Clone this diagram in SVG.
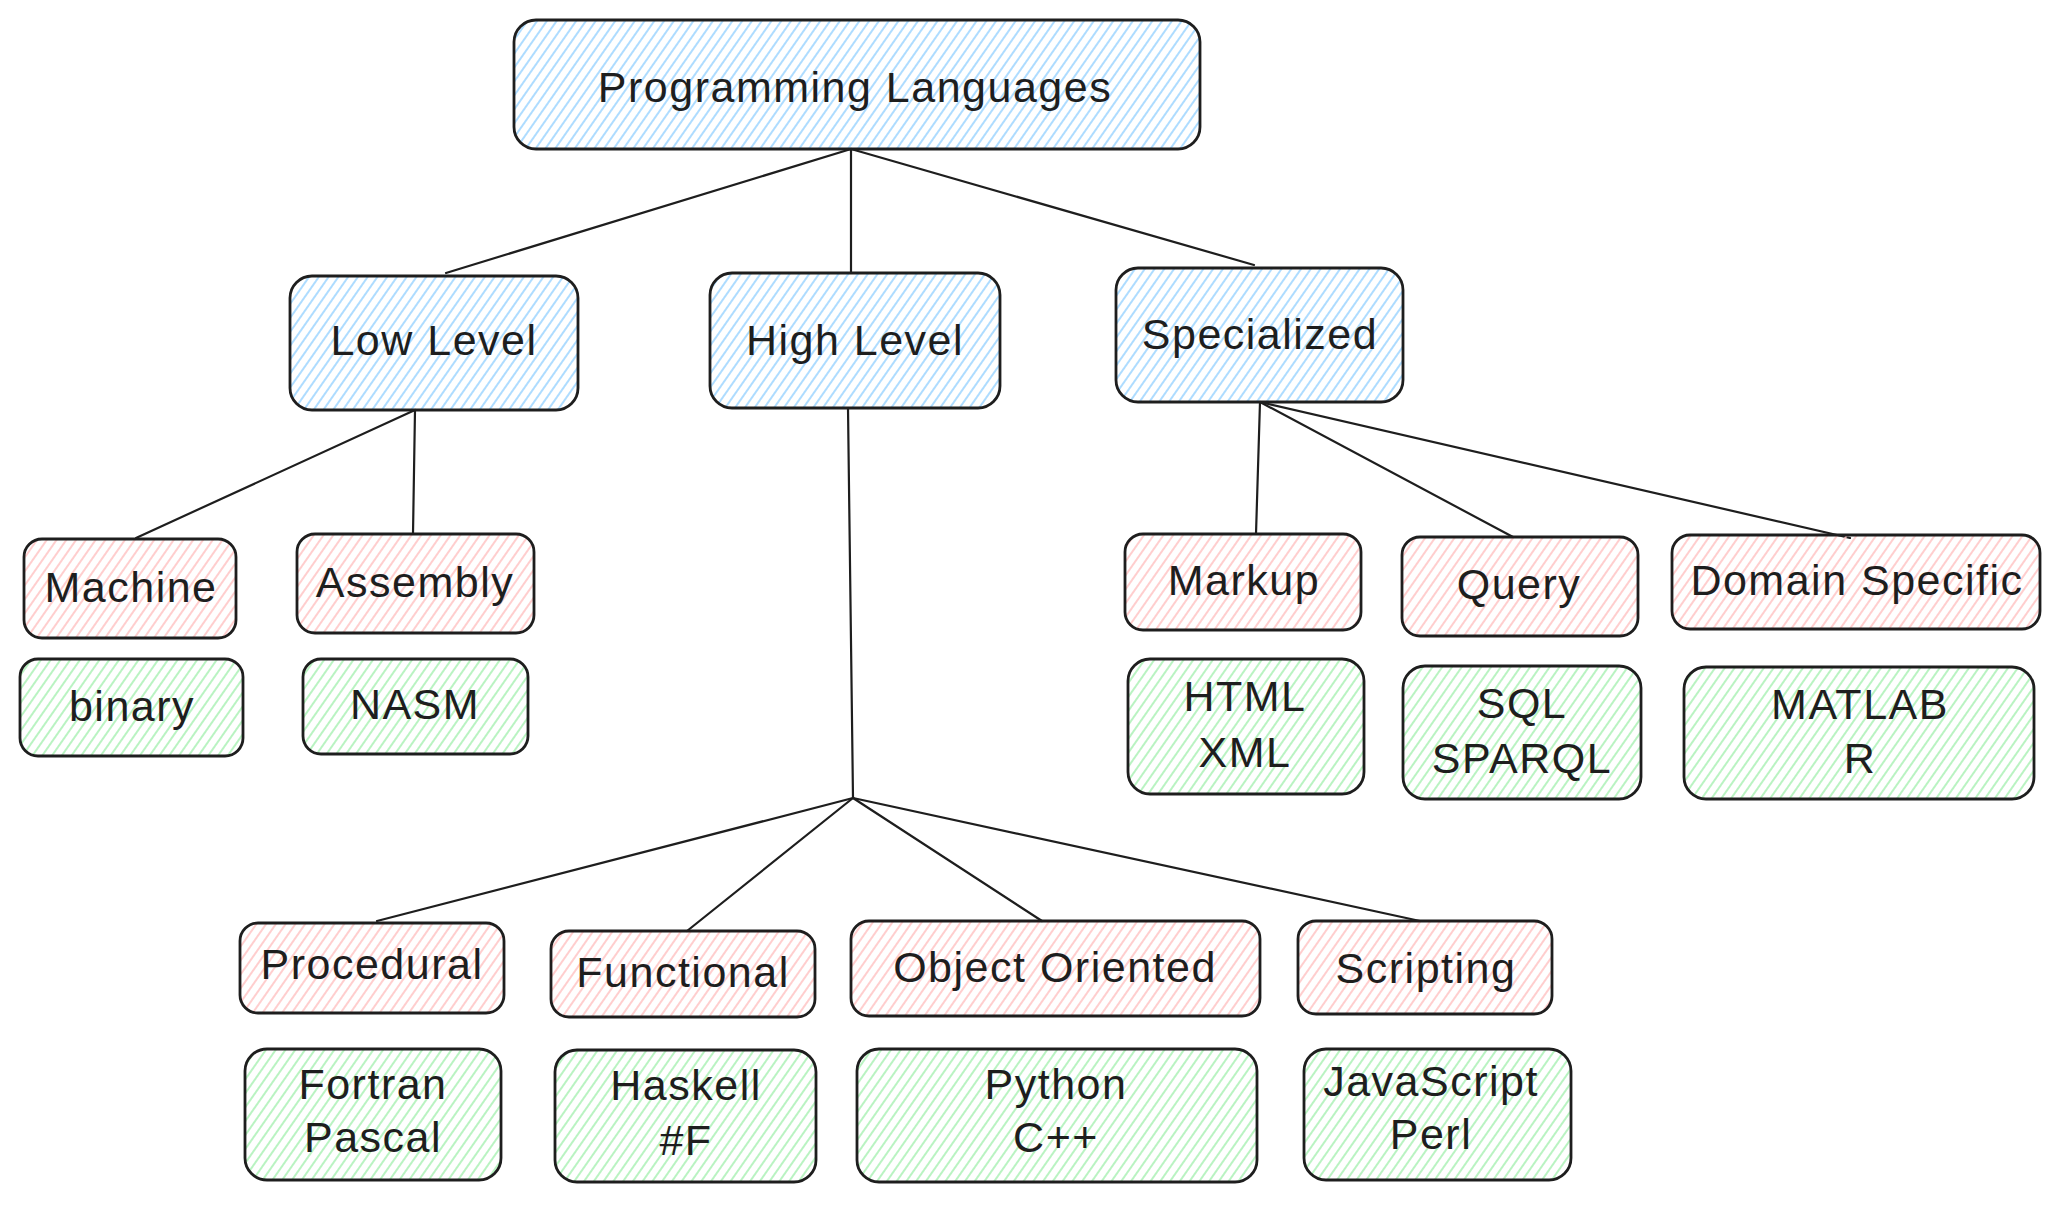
<svg xmlns="http://www.w3.org/2000/svg" width="2068" height="1207" viewBox="0 0 2068 1207">
<defs>
<pattern id="hb" patternUnits="userSpaceOnUse" width="8" height="8" patternTransform="rotate(35)"><line x1="4" y1="0" x2="4" y2="8" stroke="#a5d8ff" stroke-width="1.8"/></pattern>
<pattern id="hr" patternUnits="userSpaceOnUse" width="8" height="8" patternTransform="rotate(35)"><line x1="4" y1="0" x2="4" y2="8" stroke="#ffc9c9" stroke-width="1.8"/></pattern>
<pattern id="hg" patternUnits="userSpaceOnUse" width="8" height="8" patternTransform="rotate(35)"><line x1="4" y1="0" x2="4" y2="8" stroke="#b2f2bb" stroke-width="1.8"/></pattern>
</defs>
<style>
.n{stroke:#1e1e1e;stroke-width:2.8;stroke-linejoin:round}
.b{fill:url(#hb)}.r{fill:url(#hr)}.g{fill:url(#hg)}
text{font-family:"Liberation Sans",Arial,sans-serif;font-size:43px;fill:#1e1e1e;text-anchor:middle;dominant-baseline:central;letter-spacing:1.5px}
.c line{stroke:#1e1e1e;stroke-width:2.2;stroke-linecap:round}
</style>
<rect width="2068" height="1207" fill="#ffffff"/>
<g class="c" id="connectors">
<line x1="851" y1="149" x2="446" y2="273"/>
<line x1="851" y1="149" x2="851" y2="273"/>
<line x1="851" y1="149" x2="1254" y2="265"/>
<line x1="415" y1="410" x2="136" y2="538"/>
<line x1="415" y1="410" x2="413" y2="534"/>
<line x1="848" y1="408" x2="853" y2="798"/>
<line x1="853" y1="798" x2="377" y2="921"/>
<line x1="853" y1="798" x2="687" y2="931"/>
<line x1="853" y1="798" x2="1042" y2="921"/>
<line x1="853" y1="798" x2="1420" y2="921"/>
<line x1="1260" y1="402" x2="1256" y2="534"/>
<line x1="1260" y1="402" x2="1513" y2="537"/>
<line x1="1260" y1="402" x2="1850" y2="538"/>
</g>
<g id="programming-languages"><rect class="n b" x="514" y="20" width="686" height="129" rx="22"/><text x="855" y="87">Programming Languages</text></g>
<g id="low-level"><rect class="n b" x="290" y="276" width="288" height="134" rx="22"/><text x="434" y="340">Low Level</text></g>
<g id="high-level"><rect class="n b" x="710" y="273" width="290" height="135" rx="22"/><text x="855" y="340">High Level</text></g>
<g id="specialized"><rect class="n b" x="1116" y="268" width="287" height="134" rx="22"/><text x="1260" y="334">Specialized</text></g>
<g id="machine"><rect class="n r" x="24" y="539" width="212" height="99" rx="18"/><text x="131" y="587">Machine</text></g>
<g id="assembly"><rect class="n r" x="297" y="534" width="237" height="99" rx="18"/><text x="415" y="582">Assembly</text></g>
<g id="binary"><rect class="n g" x="20" y="659" width="223" height="97" rx="18"/><text x="132" y="706">binary</text></g>
<g id="nasm"><rect class="n g" x="303" y="659" width="225" height="95" rx="18"/><text x="415" y="704">NASM</text></g>
<g id="markup"><rect class="n r" x="1125" y="534" width="236" height="96" rx="18"/><text x="1244" y="580">Markup</text></g>
<g id="query"><rect class="n r" x="1402" y="537" width="236" height="99" rx="18"/><text x="1519" y="584">Query</text></g>
<g id="domain-specific"><rect class="n r" x="1672" y="535" width="368" height="94" rx="18"/><text x="1857" y="580">Domain Specific</text></g>
<g id="html-xml"><rect class="n g" x="1128" y="659" width="236" height="135" rx="22"/><text x="1245" y="696">HTML</text><text x="1245" y="752">XML</text></g>
<g id="sql-sparql"><rect class="n g" x="1403" y="666" width="238" height="133" rx="22"/><text x="1522" y="703">SQL</text><text x="1522" y="758">SPARQL</text></g>
<g id="matlab-r"><rect class="n g" x="1684" y="667" width="350" height="132" rx="22"/><text x="1860" y="704">MATLAB</text><text x="1860" y="758">R</text></g>
<g id="procedural"><rect class="n r" x="240" y="923" width="264" height="90" rx="18"/><text x="372" y="964">Procedural</text></g>
<g id="functional"><rect class="n r" x="551" y="931" width="264" height="86" rx="18"/><text x="683" y="972">Functional</text></g>
<g id="object-oriented"><rect class="n r" x="851" y="921" width="409" height="95" rx="18"/><text x="1055" y="967">Object Oriented</text></g>
<g id="scripting"><rect class="n r" x="1298" y="921" width="254" height="93" rx="18"/><text x="1426" y="968">Scripting</text></g>
<g id="fortran-pascal"><rect class="n g" x="245" y="1049" width="256" height="131" rx="22"/><text x="373" y="1084">Fortran</text><text x="373" y="1137">Pascal</text></g>
<g id="haskell-f"><rect class="n g" x="555" y="1050" width="261" height="132" rx="22"/><text x="686" y="1085">Haskell</text><text x="686" y="1140">#F</text></g>
<g id="python-cpp"><rect class="n g" x="857" y="1049" width="400" height="133" rx="22"/><text x="1056" y="1084">Python</text><text x="1056" y="1137">C++</text></g>
<g id="javascript-perl"><rect class="n g" x="1304" y="1049" width="267" height="131" rx="22"/><text x="1431" y="1081">JavaScript</text><text x="1431" y="1134">Perl</text></g>
</svg>
